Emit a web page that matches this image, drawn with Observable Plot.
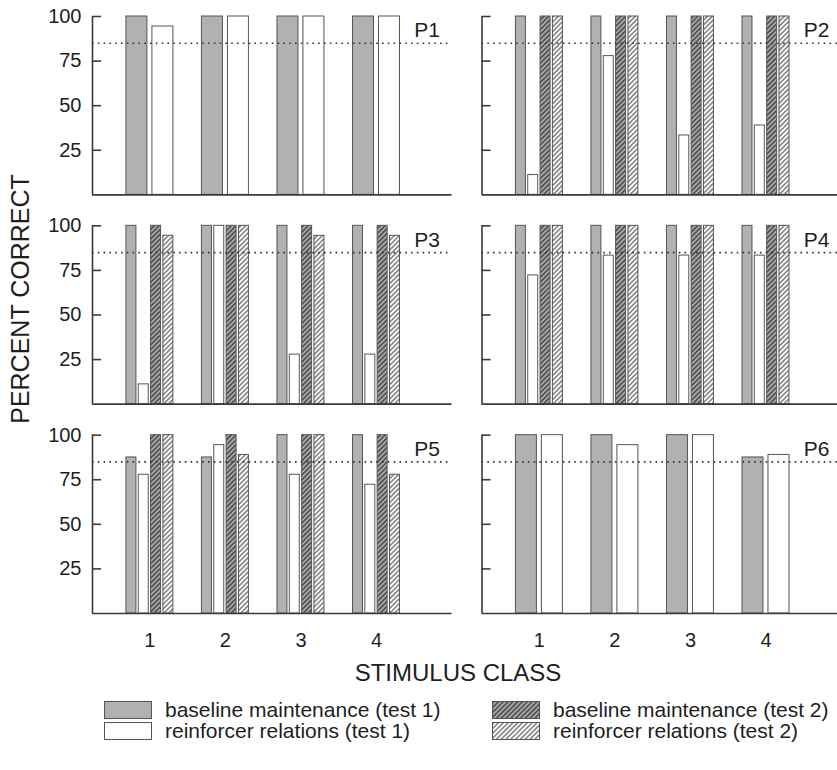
<!DOCTYPE html>
<html>
<head>
<meta charset="utf-8">
<script src="https://cdn.jsdelivr.net/npm/d3@7"></script>
<script src="https://cdn.jsdelivr.net/npm/@observablehq/plot@0.6"></script>
<style>
  html, body { margin: 0; padding: 0; background: #fff; overflow: hidden; }
  #wrap { position: relative; width: 841px; height: 770px; font-family: "Liberation Sans", Arial, Helvetica, sans-serif; color: #1e1e1e; }
  #chart { position: absolute; left: 0; top: 0; }
  .lbl { position: absolute; white-space: nowrap; line-height: 1; }
  .legend-item { position: absolute; display: flex; align-items: center; font-size: 21px; line-height: 1; white-space: nowrap; }
  .legend-item svg { margin-right: 13px; display: block; }
</style>
</head>
<body>
<svg width="0" height="0" style="position:absolute">
  <defs>
    <pattern id="hatchDark" patternUnits="userSpaceOnUse" width="3.4" height="3.4" patternTransform="rotate(45)">
      <rect width="3.4" height="3.4" fill="#a9a9a9"></rect>
      <line x1="1.7" y1="0" x2="1.7" y2="3.4" stroke="#2e2e2e" stroke-width="1.2"></line>
    </pattern>
    <pattern id="hatchLight" patternUnits="userSpaceOnUse" width="3.4" height="3.4" patternTransform="rotate(45)">
      <rect width="3.4" height="3.4" fill="#ffffff"></rect>
      <line x1="1.7" y1="0" x2="1.7" y2="3.4" stroke="#4a4a4a" stroke-width="1.1"></line>
    </pattern>
  </defs>
</svg>
<div id="wrap">
  <div id="chart"></div>
</div>
<script>
// ---- data ----
const panels = ["P1", "P2", "P3", "P4", "P5", "P6"];
const classes = [1, 2, 3, 4];
const seriesNames = [
  "baseline maintenance (test 1)",
  "reinforcer relations (test 1)",
  "baseline maintenance (test 2)",
  "reinforcer relations (test 2)"
];
const yTicks = [25, 50, 75, 100];
const criterion = 85;
// percent correct per panel (P1..P6), per stimulus class (1..4); null = not run
const baselineTest1   = [[100, 100, 100, 100], [100, 100, 100, 100], [100, 100, 100, 100], [100, 100, 100, 100], [87.5, 87.5, 100, 100], [100, 100, 100, 87.5]];
const reinforcerTest1 = [[94.4, 100, 100, 100], [11.1, 77.8, 33.3, 38.9], [11.1, 100, 27.8, 27.8], [72.2, 83.3, 83.3, 83.3], [77.8, 94.4, 77.8, 72.2], [100, 94.4, 100, 88.9]];
const baselineTest2   = [null, [100, 100, 100, 100], [100, 100, 100, 100], [100, 100, 100, 100], [100, 100, 100, 100], null];
const reinforcerTest2 = [null, [100, 100, 100, 100], [94.4, 100, 94.4, 94.4], [100, 100, 100, 100], [100, 88.9, 100, 77.8], null];

// ---- layout / style ----
const fills = ["#b1b1b1", "#ffffff", "url(#hatchDark)", "url(#hatchLight)"];
const xMin = 0.24, xMax = 5.0;
const groupHalf = 0.311;
const tickLen = 0.12;

const bars = [];
panels.forEach((name, i) => {
  const vals = [baselineTest1[i], reinforcerTest1[i], baselineTest2[i], reinforcerTest2[i]];
  const present = vals.map((v, s) => (v ? s : -1)).filter(s => s >= 0);
  const n = present.length;
  const gap = n === 2 ? 0.066 : 0.031;
  const w = (2 * groupHalf - (n - 1) * gap) / n;
  present.forEach((s, k) => {
    classes.forEach((c, j) => {
      const x1 = c - groupHalf + k * (w + gap);
      bars.push({panel: name, col: i % 2, row: Math.floor(i / 2), cls: c, series: s, x1, x2: x1 + w, value: vals[s][j]});
    });
  });
});
const panelLabels = panels.map((name, i) => ({name, col: i % 2, row: Math.floor(i / 2)}));

const W = 841, H = 662;
const chart = Plot.plot({
  width: W,
  height: H,
  marginLeft: 92,
  marginRight: 0,
  marginTop: 16,
  marginBottom: H - 613,
  style: {fontFamily: '"Liberation Sans", Arial, Helvetica, sans-serif', fontSize: "20px", color: "#1e1e1e", background: "transparent", maxWidth: "none", overflow: "visible"},
  fx: {domain: [0, 1], axis: null, paddingInner: 0.077, paddingOuter: 0, round: false},
  fy: {domain: [0, 1, 2], axis: null, paddingInner: 0.148, paddingOuter: 0, round: false},
  x: {domain: [xMin, xMax]},
  y: {domain: [0, 100]},
  marks: [
    ...seriesNames.map((nm, s) =>
      Plot.rectY(bars.filter(d => d.series === s), {
        fx: "col", fy: "row", x1: "x1", x2: "x2", y1: 0, y2: "value",
        fill: fills[s], stroke: "#555", strokeWidth: 1
      })
    ),
    Plot.ruleY([criterion], {stroke: "#333", strokeWidth: 1.6, strokeDasharray: "1.6,4.2"}),
    Plot.ruleY([0], {stroke: "#3a3a3a", strokeWidth: 1.6}),
    Plot.ruleX([xMin], {y1: 0, y2: 100, stroke: "#3a3a3a", strokeWidth: 1.6}),
    Plot.ruleY(yTicks, {x1: xMin, x2: xMin + tickLen, stroke: "#3a3a3a", strokeWidth: 1.6}),
    Plot.axisY({ticks: yTicks, tickSize: 0, tickPadding: 11, label: null, fontSize: 20}),
    Plot.axisX({ticks: classes, tickSize: 0, tickPadding: 19, label: null, fontSize: 20, tickFormat: d => String(d)}),
    Plot.text(panelLabels, {fx: "col", fy: "row", text: "name", frameAnchor: "top-right", lineAnchor: "middle", dx: -12, dy: 14, fontSize: 21, textAnchor: "end"})
  ]
});
document.getElementById("chart").appendChild(chart);

// ---- titles and legend ----
const wrap = document.getElementById("wrap");
function addLabel(text, x, y, size, rotate) {
  const d = document.createElement("div");
  d.className = "lbl";
  d.textContent = text;
  d.style.fontSize = size + "px";
  d.style.left = x + "px";
  d.style.top = y + "px";
  d.style.transform = "translate(-50%, -50%)" + (rotate ? " rotate(-90deg)" : "");
  wrap.appendChild(d);
}
addLabel("PERCENT CORRECT", 20, 299, 25, true);
addLabel("STIMULUS CLASS", 458, 673, 24, false);

const legendPos = [[104, 708], [104, 729], [492, 708], [492, 729]];
seriesNames.forEach((nm, s) => {
  const item = document.createElement("div");
  item.className = "legend-item";
  item.style.left = legendPos[s][0] + "px";
  item.style.top = (legendPos[s][1] - 9) + "px";
  item.innerHTML = `<svg width="48" height="18"><rect x="0.5" y="0.5" width="47" height="17" fill="${fills[s]}" stroke="#555" stroke-width="1"></rect></svg><span>${nm}</span>`;
  wrap.appendChild(item);
});
</script>
</body>
</html>
